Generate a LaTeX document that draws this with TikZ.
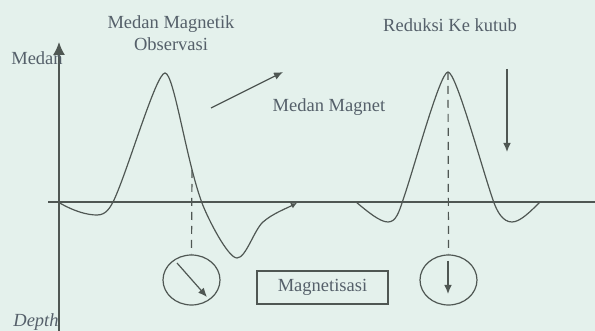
\documentclass[tikz,border=0pt]{standalone}
\usepackage{fontspec}
\setmainfont{Liberation Serif}
\usetikzlibrary{arrows.meta,shapes.geometric}
\definecolor{bgmint}{HTML}{E4F1EC}
\definecolor{inkgray}{HTML}{4F5753}
\definecolor{txtgray}{HTML}{55606A}
\tikzset{
  lbl/.style={text=txtgray,font=\fontsize{9.25}{11}\selectfont,inner sep=0pt},
  tip/.style={-{Latex[length=4.5pt,width=3.8pt]}},
  ring/.style={draw=inkgray,ellipse,minimum width=28.5pt,minimum height=25pt,inner sep=0pt}
}
\begin{document}
\begin{tikzpicture}[x=0.5pt,y=-0.5pt,line width=0.6pt,draw=inkgray]
    \fill[bgmint] (0,0) rectangle (595,331);
    \useasboundingbox (0,0) rectangle (595,331);
    % Axes
    \draw[line width=0.75pt,-{Latex[length=6.5pt,width=6pt]}] (59,331) -- (59,42);
    \draw[line width=0.75pt] (48,202) -- (595,202);
    \node[lbl] (medan) at (37,58) {Medan};
    \node[lbl,font=\fontsize{9.25}{11}\selectfont\itshape] (depth) at (36,322) {Depth};
    % Observed field
    \node[lbl,align=center] (obs) at (171,33) {Medan Magnetik\\Observasi};
    \draw[-{Latex[length=3pt,width=3pt]}] (58,202) .. controls (75,212) and (88,215) .. (97,215)
        .. controls (106,215) and (110,208) .. (114,200)
        .. controls (128,170) and (156,73) .. (165,73)
        .. controls (174,73) and (186,160) .. (202,203)
        .. controls (208,219) and (228,258) .. (237,258)
        .. controls (246,258) and (254,230) .. (263,222)
        .. controls (272,214) and (285,209) .. (297,203);
    \coordinate (obsdrop) at (192,170);
    \node[ring] (ellA) at (191.5,280) {};
    \draw[dashed,dash pattern=on 4pt off 3pt] (obsdrop) -- (ellA.north);
    \draw[tip] (177,263) -- (207,297);
    % Field direction
    \coordinate (fieldA) at (211,108);
    \coordinate (fieldB) at (283,72);
    \draw[tip] (fieldA) -- (fieldB);
    \node[lbl] (field) at (329,107) {Medan Magnet};
    \node[lbl,draw=inkgray,minimum width=65.5pt,minimum height=16.5pt] (mag) at (322.5,287.5) {Magnetisasi};
    % Reduction to pole
    \node[lbl] (rtp) at (450,25) {Reduksi Ke kutub};
    \draw (356,202) .. controls (368,212) and (380,222) .. (388,222)
        .. controls (396,222) and (399,212) .. (403,200)
        .. controls (415,165) and (440,72) .. (448,72)
        .. controls (456,72) and (481,165) .. (493,200)
        .. controls (497,212) and (503,222) .. (512,222)
        .. controls (520,222) and (530,212) .. (540,202);
    \coordinate (rtptop) at (448,72);
    \node[ring] (ellB) at (448.5,280) {};
    \draw[dashed,dash pattern=on 4pt off 3pt] (rtptop) -- (ellB.north);
    \draw[tip] (448,261) -- (448,294);
    \draw[tip] (507,69) -- (507,152);
\end{tikzpicture}
\end{document}
